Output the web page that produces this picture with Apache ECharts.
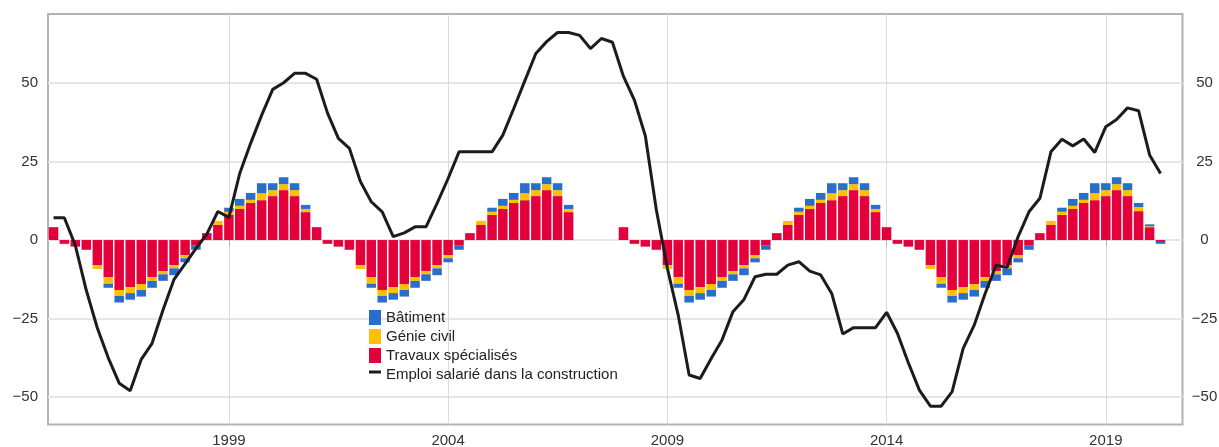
<!DOCTYPE html>
<html lang="fr">
<head>
<meta charset="utf-8">
<title>Emploi salarié dans la construction</title>
<script src="https://cdn.jsdelivr.net/npm/echarts@6/dist/echarts.min.js"></script>
<style>
  html, body { margin: 0; padding: 0; background: #fff; }
  #chart { width: 1219px; height: 447px; }
</style>
</head>
<body>
<div id="chart"></div>
<script>
// trimestres, en année décimale
const quarters = [
  1995, 1995.25, 1995.5, 1995.75,
  1996, 1996.25, 1996.5, 1996.75,
  1997, 1997.25, 1997.5, 1997.75,
  1998, 1998.25, 1998.5, 1998.75,
  1999, 1999.25, 1999.5, 1999.75,
  2000, 2000.25, 2000.5, 2000.75,
  2001, 2001.25, 2001.5, 2001.75,
  2002, 2002.25, 2002.5, 2002.75,
  2003, 2003.25, 2003.5, 2003.75,
  2004, 2004.25, 2004.5, 2004.75,
  2005, 2005.25, 2005.5, 2005.75,
  2006, 2006.25, 2006.5, 2006.75,
  2007, 2007.25, 2007.5, 2007.75,
  2008, 2008.25, 2008.5, 2008.75,
  2009, 2009.25, 2009.5, 2009.75,
  2010, 2010.25, 2010.5, 2010.75,
  2011, 2011.25, 2011.5, 2011.75,
  2012, 2012.25, 2012.5, 2012.75,
  2013, 2013.25, 2013.5, 2013.75,
  2014, 2014.25, 2014.5, 2014.75,
  2015, 2015.25, 2015.5, 2015.75,
  2016, 2016.25, 2016.5, 2016.75,
  2017, 2017.25, 2017.5, 2017.75,
  2018, 2018.25, 2018.5, 2018.75,
  2019, 2019.25, 2019.5, 2019.75,
  2020, 2020.25
];

const travaux = [
  4.1, -1.2, -2.1, -3.1,
  -8.0, -11.8, -15.9, -15.0,
  -14.0, -11.8, -9.9, -8.0,
  -4.8, -1.8, 2.2, 4.8,
  8.0, 9.9, 11.8, 12.7,
  14.0, 15.9, 14.0, 8.9,
  4.1, -1.2, -2.1, -3.1,
  -8.0, -11.8, -15.9, -15.0,
  -14.0, -11.8, -9.9, -8.0,
  -4.8, -1.8, 2.2, 4.8,
  8.0, 9.9, 11.8, 12.7,
  14.0, 15.9, 14.0, 8.9,
  null, null, null, null,
  4.1, -1.2, -2.1, -3.1,
  -8.0, -11.8, -15.9, -15.0,
  -14.0, -11.8, -9.9, -8.0,
  -4.8, -1.8, 2.2, 4.8,
  8.0, 9.9, 11.8, 12.7,
  14.0, 15.9, 14.0, 8.9,
  4.1, -1.2, -2.1, -3.1,
  -8.0, -11.8, -15.9, -15.0,
  -14.0, -11.8, -9.9, -8.0,
  -4.8, -1.8, 2.2, 4.8,
  8.0, 9.9, 11.8, 12.7,
  14.0, 15.9, 14.0, 9.2,
  4.1, -0.6
];

const genieCivil = [
  0, 0, 0, 0,
  -1.2, -2.1, -1.9, -1.9,
  -1.9, -1.2, -1.0, -1.0,
  -1.0, 0, 0, 1.3,
  1.0, 1.0, 1.0, 2.2,
  1.9, 1.9, 1.9, 1.0,
  0, 0, 0, 0,
  -1.2, -2.1, -1.9, -1.9,
  -1.9, -1.2, -1.0, -1.0,
  -1.0, 0, 0, 1.3,
  1.0, 1.0, 1.0, 2.2,
  1.9, 1.9, 1.9, 1.0,
  null, null, null, null,
  0, 0, 0, 0,
  -1.2, -2.1, -1.9, -1.9,
  -1.9, -1.2, -1.0, -1.0,
  -1.0, 0, 0, 1.3,
  1.0, 1.0, 1.0, 2.2,
  1.9, 1.9, 1.9, 1.0,
  0, 0, 0, 0,
  -1.2, -2.1, -1.9, -1.9,
  -1.9, -1.2, -1.0, -1.0,
  -1.0, 0, 0, 1.3,
  1.0, 1.0, 1.0, 2.2,
  1.9, 1.9, 1.9, 1.3,
  0.3, 0
];

const batiment = [
  0, 0, 0, 0,
  0, -1.3, -2.1, -2.1,
  -2.1, -2.2, -2.1, -2.2,
  -1.3, -1.3, 0, 0,
  1.3, 2.2, 2.2, 3.2,
  2.2, 2.2, 2.2, 1.3,
  0, 0, 0, 0,
  0, -1.3, -2.1, -2.1,
  -2.1, -2.2, -2.1, -2.2,
  -1.3, -1.3, 0, 0,
  1.3, 2.2, 2.2, 3.2,
  2.2, 2.2, 2.2, 1.3,
  null, null, null, null,
  0, 0, 0, 0,
  0, -1.3, -2.1, -2.1,
  -2.1, -2.2, -2.1, -2.2,
  -1.3, -1.3, 0, 0,
  1.3, 2.2, 2.2, 3.2,
  2.2, 2.2, 2.2, 1.3,
  0, 0, 0, 0,
  0, -1.3, -2.1, -2.1,
  -2.1, -2.2, -2.1, -2.2,
  -1.3, -1.3, 0, 0,
  1.3, 2.2, 2.2, 3.2,
  2.2, 2.2, 2.2, 1.3,
  0.6, -0.6
];

const emploi = [
  7.1, 7.1, -1.6, -16,
  -28, -37.5, -45.6, -48,
  -38, -32.9, -22.3, -12.5,
  -7.6, -2.7, 1.9, 9.1,
  7.2, 21.2, 30.8, 39.8,
  48, 50.1, 53.1, 53.1,
  51.2, 40.5, 32.4, 29.2,
  18.6, 12.2, 9.0, 1.1,
  2.3, 4.2, 4.2, 11.7,
  19.6, 28.1, 28.1, 28.1,
  28.1, 33.4, 41.9, 50.7,
  59.4, 63.2, 66.1, 66.1,
  65.2, 61, 64.2, 63,
  52.1, 44.6, 33.2, 9.6,
  -9, -23.9, -43, -44.1,
  -37.7, -31.8, -22.8, -18.9,
  -11.7, -10.9, -10.9, -8,
  -6.9, -9.9, -11.1, -17,
  -29.9, -27.9, -27.9, -27.9,
  -23, -29.7, -39.1, -47.8,
  -52.9, -52.9, -48.3, -34.5,
  -27.1, -17, -8, -8.7,
  1.1, 9, 13.3, 28.1,
  32.1, 30, 32.2, 27.9,
  36.1, 38.4, 42.1, 41.2,
  27.1, 21.2
];

const yearTicks = [1999, 2004, 2009, 2014, 2019];
const valueTicks = [-50, -25, 0, 25, 50];

const FONT = '"Liberation Sans", Arial, Helvetica, sans-serif';
const X_MIN = Date.UTC(1994, 10, 16);
const X_MAX = Date.UTC(2020, 9, 1);

const GRID_LEFT = 48;
const GRID_RIGHT = 36.5;
const BAR_WIDTH = 9.5;
// echarts élargit l'axe des barres d'une demi-barre de chaque côté :
// on resserre d'autant pour retomber sur X_MIN / X_MAX
const plotWidth = 1219 - GRID_LEFT - GRID_RIGHT;
const barPad = (X_MAX - X_MIN) * (BAR_WIDTH / 2) / plotWidth;

// année décimale -> timestamp (début de trimestre)
function toTime(q) {
  const y = Math.floor(q);
  return Date.UTC(y, Math.round((q - y) * 12), 1);
}

function toPairs(arr) {
  return arr.map((v, i) => [toTime(quarters[i]), v]);
}

function minusSign(v) {
  return String(v).replace('-', '\u2212');
}

const yearStamps = yearTicks.map((y) => Date.UTC(y, 0, 1));

const chart = echarts.init(document.getElementById('chart'));

chart.setOption({
  animation: false,
  useUTC: true,
  grid: {
    left: GRID_LEFT,
    right: GRID_RIGHT,
    top: 14,
    bottom: 22.5,
    show: true,
    borderColor: '#b3b3b3',
    borderWidth: 2,
    outerBoundsMode: 'none'
  },
  legend: {
    orient: 'vertical',
    left: 369,
    top: 310,
    padding: 0,
    itemWidth: 12,
    itemHeight: 15,
    itemGap: 4,
    selectedMode: false,
    textStyle: { fontFamily: FONT, fontSize: 15, color: '#222', lineHeight: 15 },
    data: [
      { name: 'Bâtiment', icon: 'rect' },
      { name: 'Génie civil', icon: 'rect' },
      { name: 'Travaux spécialisés', icon: 'rect' },
      {
        name: 'Emploi salarié dans la construction',
        icon: 'path://M0,0L0,0M0,3.5L12,3.5L12,6.5L0,6.5ZM12,15L12,15'
      }
    ]
  },
  xAxis: [
    {
      // axe visible : repères annuels (timestamps)
      type: 'value',
      min: X_MIN,
      max: X_MAX,
      axisLine: { show: false },
      axisTick: {
        show: true,
        customValues: yearStamps,
        length: 6,
        lineStyle: { color: '#b8b8b8', width: 1 }
      },
      axisLabel: {
        customValues: yearStamps,
        formatter: (v) => String(new Date(v).getUTCFullYear()),
        fontFamily: FONT,
        fontSize: 15,
        color: '#333',
        margin: 9
      },
      splitLine: { show: true, lineStyle: { color: '#dadada', width: 1 } }
    },
    {
      // axe temporel caché qui porte les séries (empilement)
      type: 'time',
      min: X_MIN + barPad,
      max: X_MAX - barPad,
      show: false,
      splitLine: { show: false }
    }
  ],
  yAxis: [
    {
      type: 'value',
      position: 'left',
      min: -58.75,
      max: 72,
      axisLine: { show: false },
      axisTick: { show: false, customValues: valueTicks },
      axisLabel: {
        customValues: valueTicks,
        formatter: minusSign,
        fontFamily: FONT,
        fontSize: 15,
        color: '#333',
        margin: 10
      },
      splitLine: { show: true, lineStyle: { color: '#e6e6e6', width: 2 } }
    },
    {
      type: 'value',
      position: 'right',
      min: -58.75,
      max: 72,
      axisLine: { show: false },
      axisTick: { show: false, customValues: valueTicks },
      axisLabel: {
        customValues: valueTicks,
        formatter: minusSign,
        fontFamily: FONT,
        fontSize: 15,
        color: '#333',
        align: 'center',
        margin: 22
      },
      splitLine: { show: false }
    }
  ],
  series: [
    {
      name: 'Travaux spécialisés',
      type: 'bar',
      xAxisIndex: 1,
      stack: 'total',
      barWidth: BAR_WIDTH,
      itemStyle: { color: '#e4003a' },
      data: toPairs(travaux)
    },
    {
      name: 'Génie civil',
      type: 'bar',
      xAxisIndex: 1,
      stack: 'total',
      barWidth: BAR_WIDTH,
      itemStyle: { color: '#ffc000' },
      data: toPairs(genieCivil)
    },
    {
      name: 'Bâtiment',
      type: 'bar',
      xAxisIndex: 1,
      stack: 'total',
      barWidth: BAR_WIDTH,
      itemStyle: { color: '#2b6dcb' },
      data: toPairs(batiment)
    },
    {
      name: 'Emploi salarié dans la construction',
      type: 'line',
      xAxisIndex: 1,
      z: 5,
      symbol: 'none',
      itemStyle: { color: '#1c1c1c' },
      lineStyle: { color: '#1c1c1c', width: 3 },
      data: toPairs(emploi)
    }
  ]
});
</script>
</body>
</html>
